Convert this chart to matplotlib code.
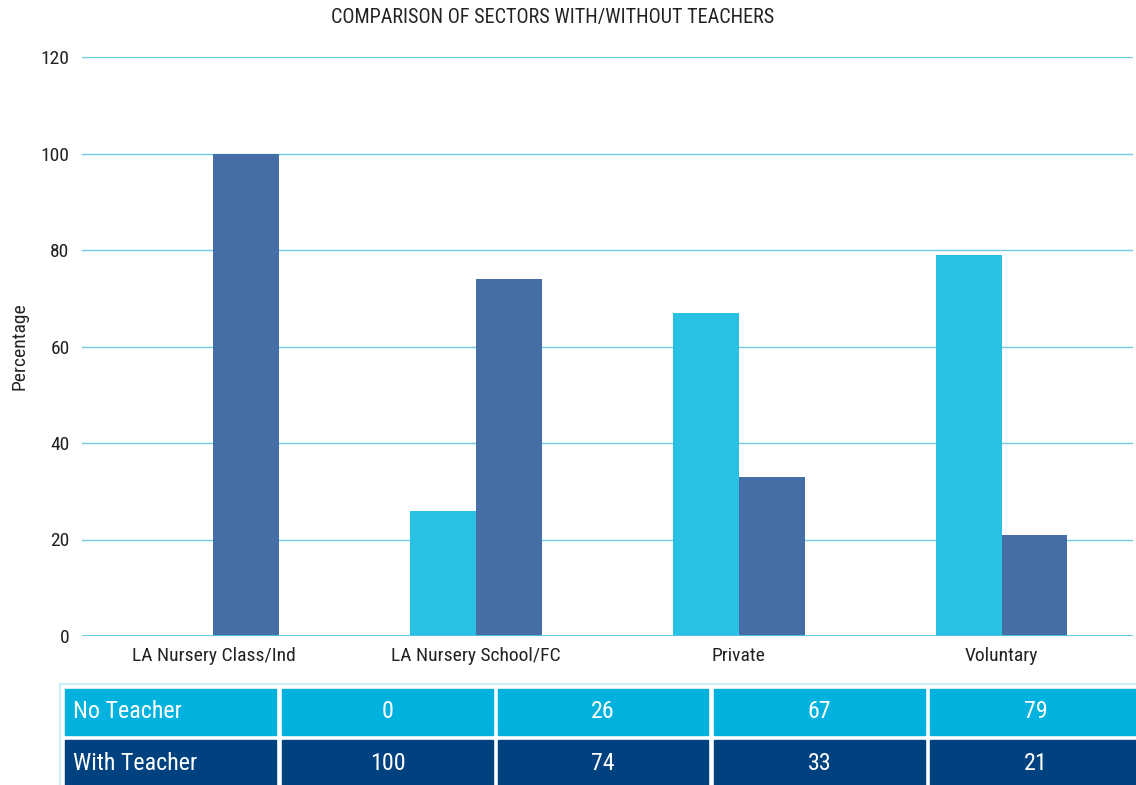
import matplotlib
matplotlib.use("Agg")
import matplotlib.pyplot as plt
import numpy as np
from matplotlib.patches import Rectangle

plt.rcParams['font.family'] = ['Roboto Condensed', 'Liberation Sans Narrow', 'Roboto', 'DejaVu Sans']

categories = ["LA Nursery Class/Ind", "LA Nursery School/FC", "Private", "Voluntary"]
no_teacher = [0, 26, 67, 79]
with_teacher = [100, 74, 33, 21]
series_names = ["No Teacher", "With Teacher"]
title = "COMPARISON OF SECTORS WITH/WITHOUT TEACHERS"
yticks = [0, 20, 40, 60, 80, 100, 120]

W, H = 1136, 785
fig = plt.figure(figsize=(W / 100, H / 100), dpi=100)

ax = fig.add_axes([82 / W, 1 - 636 / H, (1133 - 82) / W, (636 - 57) / H])
x = np.arange(len(categories))
bw = 0.25
ax.bar(x - bw / 2, no_teacher, bw, color='#29c1e3', zorder=3)
ax.bar(x + bw / 2, with_teacher, bw, color='#466ea6', zorder=3)
ax.set_xlim(-0.5, len(categories) - 0.5)
ax.set_ylim(0, 120)
ax.set_yticks(yticks)
ax.set_xticks(x)
ax.set_xticklabels(categories, color='#222222')
ax.tick_params(axis='both', length=0, labelcolor='#222222')
ax.tick_params(axis='x', pad=8, labelsize=14)
ax.tick_params(axis='y', pad=9, labelsize=14)
for s in ax.spines.values():
    s.set_visible(False)
ax.yaxis.grid(True, color='#6fcbe2', linewidth=1.0, zorder=0)
ax.axhline(0, color='#5ac5e3', linewidth=2, zorder=4)
ax.set_ylabel("Percentage", fontsize=14, color='#222222', labelpad=9)
fig.text(553 / W, 1 - 17 / H, title, ha='center', va='center', fontsize=14.5, color='#222222')

# data table below the chart
tax = fig.add_axes([0, 0, 1, 1])
tax.set_xlim(0, W)
tax.set_ylim(H, 0)
tax.axis('off')
tax.plot([60, W], [684, 684], color='#c8eef7', linewidth=1.5)
tax.plot([60, 60], [684, H], color='#c8eef7', linewidth=1.5)
col_x = [65, 282, 498, 714, 930]
col_w = [211, 211, 210, 211, 211]
row_y = [689, 740]
row_h = 46
row_colors = ['#00b2dd', '#00417f']
rows = [no_teacher, with_teacher]
for r, (name, vals) in enumerate(zip(series_names, rows)):
    y0 = row_y[r]
    tax.add_patch(Rectangle((col_x[0], y0), col_w[0], row_h, color=row_colors[r]))
    tax.text(col_x[0] + 8, y0 + row_h / 2, name, ha='left', va='center', color='white', fontsize=17.3)
    for c, v in enumerate(vals):
        cx = col_x[c + 1]
        tax.add_patch(Rectangle((cx, y0), col_w[c + 1], row_h, color=row_colors[r]))
        tax.text(cx + col_w[c + 1] / 2, y0 + row_h / 2, str(v), ha='center', va='center',
                 color='white', fontsize=17.3)

fig.savefig("out.png", dpi=100)
